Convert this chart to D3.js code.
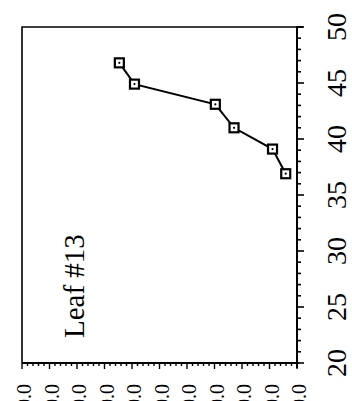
<!DOCTYPE html>
<html>
<head>
<meta charset="utf-8">
<script src="https://cdn.jsdelivr.net/npm/d3@7"></script>
<style>
  html, body { margin: 0; padding: 0; background: #fff; }
  svg { display: block; }
  text { font-family: "Liberation Serif", "DejaVu Serif", serif; fill: #000; }
</style>
</head>
<body>
<svg id="chart" width="352" height="401"></svg>
<script>
// readings along the right-hand (rotated) axis
var position = [46.8, 44.9, 43.1, 41.0, 39.1, 36.9];
// readings along the bottom (rotated) axis
var amount = [64.6, 59.1, 29.7, 22.9, 8.9, 4.1];
var posTicks = [20, 25, 30, 35, 40, 45, 50];
var amountTicks = [0, 10, 20, 30, 40, 50, 60, 70, 80, 90, 100];
var label = 'Leaf #13';

var svg = d3.select('#chart');

// plot frame
var plotL = 22, plotR = 297, plotT = 27, plotB = 363;

var y = d3.scaleLinear().domain([20, 50]).range([plotB, plotT]);
var x = d3.scaleLinear().domain([0, 100]).range([plotR, plotL]);

// frame (top + left)
svg.append('path')
    .attr('d', 'M' + plotR + ',' + plotT + 'H' + plotL + 'V' + plotB)
    .attr('fill', 'none')
    .attr('stroke', '#000')
    .attr('stroke-width', 1.6);

// right axis (rotated x axis)
var rAxis = svg.append('g')
    .attr('transform', 'translate(' + plotR + ',0)');
rAxis.append('line')
    .attr('x1', 0).attr('x2', 0)
    .attr('y1', plotT - 1).attr('y2', plotB + 5)
    .attr('stroke', '#000').attr('stroke-width', 2);
rAxis.append('line')
    .attr('x1', 0).attr('x2', 6)
    .attr('y1', plotT).attr('y2', plotT)
    .attr('stroke', '#000').attr('stroke-width', 2);
rAxis.selectAll('line.tick')
    .data(d3.range(20, 51))
    .enter().append('line')
    .attr('class', 'tick')
    .attr('x1', 0)
    .attr('x2', function(d){ return d % 5 === 0 ? 7 : 4; })
    .attr('y1', function(d){ return y(d); })
    .attr('y2', function(d){ return y(d); })
    .attr('stroke', '#000').attr('stroke-width', 1.6);
rAxis.selectAll('text')
    .data(posTicks)
    .enter().append('text')
    .attr('transform', function(d){ return 'translate(49,' + y(d) + ') rotate(-90)'; })
    .attr('text-anchor', 'middle')
    .style('font-size', '28px')
    .text(function(d){ return d; });

// bottom axis (rotated y axis)
var bAxis = svg.append('g')
    .attr('transform', 'translate(0,' + plotB + ')');
bAxis.append('line')
    .attr('x1', plotL).attr('x2', plotR + 2)
    .attr('y1', 0).attr('y2', 0)
    .attr('stroke', '#000').attr('stroke-width', 2);
bAxis.selectAll('line.tick')
    .data(d3.range(0, 101, 2))
    .enter().append('line')
    .attr('class', 'tick')
    .attr('y1', 0)
    .attr('y2', function(d){ return d % 10 === 0 ? 6 : 3; })
    .attr('x1', function(d){ return x(d); })
    .attr('x2', function(d){ return x(d); })
    .attr('stroke', '#000').attr('stroke-width', 1.4);
bAxis.selectAll('text')
    .data(amountTicks)
    .enter().append('text')
    .attr('transform', function(d){ return 'translate(' + (x(d) + 9) + ',21) rotate(-90)'; })
    .attr('text-anchor', 'end')
    .style('font-size', '20px')
    .text(d3.format('.1f'));

// series
var pts = position.map(function(p, i){ return {p: p, a: amount[i]}; });

svg.append('path')
    .datum(pts)
    .attr('d', d3.line()
        .x(function(d){ return x(d.a); })
        .y(function(d){ return y(d.p); }))
    .attr('fill', 'none')
    .attr('stroke', '#000')
    .attr('stroke-width', 2);

var marks = svg.selectAll('g.mark')
    .data(pts)
    .enter().append('g')
    .attr('class', 'mark')
    .attr('transform', function(d){ return 'translate(' + x(d.a) + ',' + y(d.p) + ')'; });
marks.append('rect')
    .attr('x', -4.5).attr('y', -4.5)
    .attr('width', 9).attr('height', 9)
    .attr('fill', '#fff')
    .attr('stroke', '#000')
    .attr('stroke-width', 2.2);
marks.append('circle')
    .attr('r', 1.1)
    .attr('fill', '#000');

// panel label
svg.append('text')
    .attr('transform', 'translate(84,338) rotate(-90)')
    .style('font-size', '29px')
    .text(label);
</script>
</body>
</html>
